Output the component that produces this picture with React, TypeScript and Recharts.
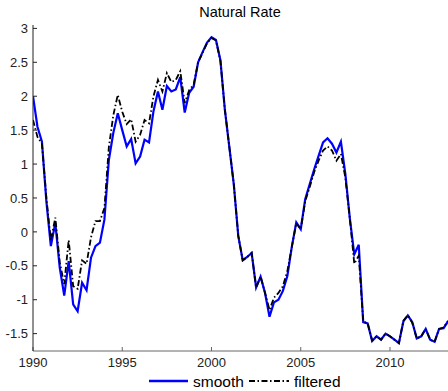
import { Line, LineChart, XAxis, YAxis } from 'recharts'

// quarterly, 1990Q1 .. 2013Q2
const START_YEAR = 1990

const smooth = [
  2.0, 1.55, 1.33, 0.45, -0.21, 0.13, -0.53, -0.94, -0.43, -1.07,
  -1.17, -0.75, -0.86, -0.38, -0.21, -0.16, 0.18, 1.06, 1.46, 1.75,
  1.5, 1.26, 1.37, 1.01, 1.11, 1.36, 1.32, 1.78, 2.07, 1.8,
  2.15, 2.07, 2.1, 2.28, 1.76, 2.05, 2.14, 2.5, 2.65, 2.79,
  2.87, 2.83, 2.53, 1.8, 1.25, 0.7, -0.06, -0.42, -0.37, -0.31,
  -0.82, -0.66, -0.9, -1.25, -1.04, -1.0, -0.87, -0.65, -0.22, 0.14,
  0.04, 0.48, 0.7, 0.92, 1.12, 1.32, 1.38, 1.3, 1.17, 1.33,
  0.85, 0.2, -0.33, -0.19, -1.33, -1.35, -1.61, -1.54, -1.59, -1.5,
  -1.54, -1.59, -1.64, -1.32, -1.23, -1.33, -1.57, -1.54, -1.43, -1.59,
  -1.62, -1.43, -1.42, -1.32,
]

const filtered = [
  1.65, 1.4, 1.3, 0.5, -0.13, 0.21, -0.45, -0.77, -0.12, -0.8,
  -0.84, -0.42, -0.47, -0.08, 0.16, 0.16, 0.35, 1.25, 1.72, 2.02,
  1.77, 1.59, 1.66, 1.33, 1.43, 1.65, 1.6, 2.0, 2.24, 2.07,
  2.34, 2.21, 2.24, 2.37, 1.9, 2.09, 2.17, 2.5, 2.64, 2.78,
  2.86, 2.82, 2.52, 1.8, 1.25, 0.7, -0.06, -0.42, -0.37, -0.31,
  -0.82, -0.66, -0.9, -1.15, -0.97, -0.9, -0.8, -0.58, -0.22, 0.13,
  0.04, 0.45, 0.66, 0.88, 1.05, 1.2, 1.26, 1.2, 1.05, 1.15,
  0.8, 0.2, -0.47, -0.35, -1.32, -1.35, -1.6, -1.54, -1.59, -1.5,
  -1.54, -1.59, -1.64, -1.31, -1.23, -1.34, -1.57, -1.54, -1.43, -1.59,
  -1.62, -1.43, -1.41, -1.31,
]

const xTicks = [1990, 1995, 2000, 2005, 2010]
const yTicks = [-1.5, -1, -0.5, 0, 0.5, 1, 1.5, 2, 2.5, 3]

const FONT = '"Liberation Sans", Arial, sans-serif'

export default function App() {
  const data = smooth.map((v, i) => ({
    t: START_YEAR + i / 4,
    smooth: v,
    filtered: filtered[i],
  }))

  return (
    <div style={{ position: 'relative', width: 448, height: 391, fontFamily: FONT }}>
      <style>{'body{margin:0}'}</style>
      <LineChart
        width={448}
        height={391}
        data={data}
        margin={{ top: 25, right: 0, bottom: 0, left: 0 }}
      >
        <XAxis
          dataKey="t"
          type="number"
          domain={[1990, 2013.25]}
          ticks={xTicks}
          allowDataOverflow
          height={40}
          tickSize={-4}
          tickMargin={11}
          stroke="#666"
          tick={{ fill: '#222', fontSize: 13, fontFamily: FONT }}
        />
        <YAxis
          type="number"
          domain={[-1.756, 3.05]}
          ticks={yTicks}
          allowDataOverflow
          width={33}
          tickSize={-4}
          tickMargin={9}
          stroke="#222"
          tick={{ fill: '#222', fontSize: 13, fontFamily: FONT }}
        />
        <Line
          type="linear"
          dataKey="smooth"
          stroke="#0000ff"
          strokeWidth={2.2}
          dot={false}
          isAnimationActive={false}
        />
        <Line
          type="linear"
          dataKey="filtered"
          stroke="#000"
          strokeWidth={1.8}
          strokeDasharray="6 2.5 1.5 2.5"
          dot={false}
          isAnimationActive={false}
        />
      </LineChart>
      <svg
        width={448}
        height={391}
        style={{ position: 'absolute', left: 0, top: 0, pointerEvents: 'none' }}
      >
        <text x={240} y={17} textAnchor="middle" fontSize={14.5} fill="#000" fontFamily={FONT}>
          Natural Rate
        </text>
        <line x1={149} y1={381} x2={188} y2={381} stroke="#0000ff" strokeWidth={2.5} />
        <text x={193} y={386.5} fontSize={15.5} fill="#000" fontFamily={FONT}>
          smooth
        </text>
        <line
          x1={249}
          y1={381}
          x2={289}
          y2={381}
          stroke="#000"
          strokeWidth={2}
          strokeDasharray="6 2.5 1.5 2.5"
        />
        <text x={294} y={386.5} fontSize={15.5} fill="#000" fontFamily={FONT}>
          filtered
        </text>
      </svg>
    </div>
  )
}
